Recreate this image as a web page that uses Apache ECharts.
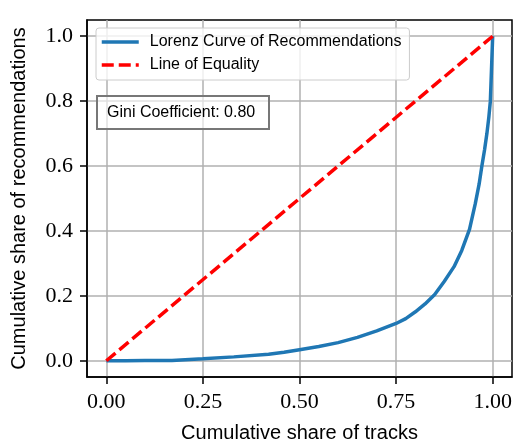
<!DOCTYPE html>
<html>
<head>
<meta charset="utf-8">
<script src="https://cdn.jsdelivr.net/npm/echarts@6/dist/echarts.min.js"></script>
<style>
  html, body { margin: 0; padding: 0; background: #fff; }
  #chart { width: 514px; height: 442px; }
</style>
</head>
<body>
<div id="chart"></div>
<script>
// cumulative share of tracks (x) vs cumulative share of recommendations (y)
var shareTracks = [0, 0.05, 0.10, 0.17, 0.25, 0.33, 0.42, 0.46, 0.50, 0.55, 0.60, 0.65, 0.70, 0.75, 0.775, 0.80, 0.825, 0.85, 0.875, 0.90, 0.92, 0.94, 0.955, 0.965, 0.972, 0.979, 0.985, 0.990, 0.994, 0.997, 1.0];
var shareRecs   = [0, 0, 0.0005, 0.001, 0.006, 0.012, 0.02, 0.026, 0.034, 0.044, 0.056, 0.072, 0.092, 0.115, 0.13, 0.151, 0.175, 0.204, 0.245, 0.29, 0.34, 0.405, 0.484, 0.545, 0.60, 0.65, 0.70, 0.75, 0.80, 0.90, 1.0];
var equalityX = [0, 1];
var equalityY = [0, 1];
var xTicks = [0, 0.25, 0.5, 0.75, 1.0];
var yTicks = [0, 0.2, 0.4, 0.6, 0.8, 1.0];
var gini = 0.80;

function pairs(xs, ys) {
  return xs.map(function (x, i) { return [x, ys[i]]; });
}

var chart = echarts.init(document.getElementById('chart'));
var serif = '"Liberation Serif", serif';
var sans = '"Liberation Sans", sans-serif';

var option = {
  animation: false,
  title: {
    text: 'Gini Coefficient: ' + gini.toFixed(2),
    left: 97,
    top: 96,
    padding: [9, 14, 8, 10],
    borderColor: '#777',
    borderWidth: 2,
    backgroundColor: 'rgba(255,255,255,0.6)',
    textStyle: { fontFamily: sans, fontSize: 16, fontWeight: 'normal', color: '#000' }
  },
  legend: {
    orient: 'vertical',
    left: 96,
    top: 28,
    padding: [6, 8, 7, 4],
    itemGap: 7,
    itemWidth: 37,
    itemHeight: 14,
    borderColor: '#ccc',
    borderWidth: 1,
    borderRadius: 3,
    backgroundColor: 'rgba(255,255,255,0.8)',
    itemStyle: { opacity: 0 },
    lineStyle: { width: 3.5 },
    textStyle: { fontFamily: sans, fontSize: 16, color: '#000', padding: [0, 0, 0, 6] },
    data: ['Lorenz Curve of Recommendations', 'Line of Equality']
  },
  grid: {
    left: 87, right: 2, top: 20, bottom: 65,
    outerBoundsMode: 'none',
    containLabel: false,
    show: true,
    borderColor: '#000',
    borderWidth: 1.5
  },
  xAxis: {
    type: 'value',
    min: -0.05,
    max: 1.05,
    name: 'Cumulative share of tracks',
    nameLocation: 'middle',
    nameGap: 46,
    nameTextStyle: { fontFamily: sans, fontSize: 20, color: '#000' },
    axisLine: { show: true, onZero: false, lineStyle: { color: '#000', width: 1.5 } },
    axisTick: { show: true, inside: false, length: 7, lineStyle: { color: '#000', width: 1.5 }, customValues: xTicks },
    axisLabel: {
      customValues: xTicks,
      margin: 14,
      fontFamily: serif, fontSize: 22, color: '#000',
      formatter: function (v) { return v.toFixed(2); }
    },
    splitLine: { show: true, lineStyle: { color: '#b0b0b0', width: 1.5 } }
  },
  yAxis: {
    type: 'value',
    min: -0.05,
    max: 1.05,
    name: 'Cumulative share of recommendations',
    nameLocation: 'middle',
    nameGap: 58,
    nameTextStyle: { fontFamily: sans, fontSize: 20, color: '#000' },
    axisLine: { show: true, onZero: false, lineStyle: { color: '#000', width: 1.5 } },
    axisTick: { show: true, inside: false, length: 7, lineStyle: { color: '#000', width: 1.5 }, customValues: yTicks },
    axisLabel: {
      customValues: yTicks,
      margin: 14,
      fontFamily: serif, fontSize: 22, color: '#000',
      formatter: function (v) { return v.toFixed(1); }
    },
    splitLine: { show: true, lineStyle: { color: '#b0b0b0', width: 1.5 } }
  },
  series: [
    {
      name: 'Lorenz Curve of Recommendations',
      type: 'line',
      data: pairs(shareTracks, shareRecs),
      symbol: 'none',
      smooth: false,
      lineStyle: { color: '#1f77b4', width: 3.5 },
      itemStyle: { color: '#1f77b4' },
      z: 3
    },
    {
      name: 'Line of Equality',
      type: 'line',
      data: pairs(equalityX, equalityY),
      symbol: 'none',
      lineStyle: { color: '#ff0000', width: 3.5, type: [12, 5] },
      itemStyle: { color: '#ff0000' },
      z: 4
    }
  ]
};

chart.setOption(option);
</script>
</body>
</html>
